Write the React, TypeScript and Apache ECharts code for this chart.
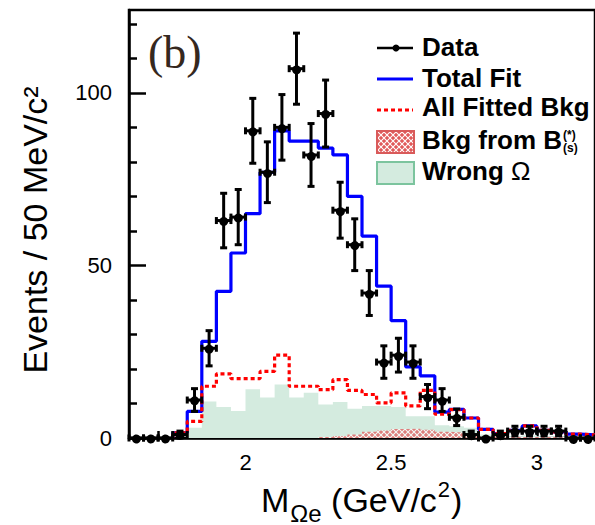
import { useEffect, useRef } from 'react';
import * as echarts from 'echarts';

// ---- data ----
const binCenters = [
  1.625, 1.675, 1.725, 1.775, 1.825, 1.875, 1.925, 1.975,
  2.025, 2.075, 2.125, 2.175, 2.225, 2.275, 2.325, 2.375,
  2.425, 2.475, 2.525, 2.575, 2.625, 2.675, 2.725, 2.775,
  2.825, 2.875, 2.925, 2.975, 3.025, 3.075, 3.125, 3.175,
];
const BIN_HALF = 0.025;
const dataCounts = [
  0, 0, 0, 1, 11, 26, 63, 64,
  89, 77, 90, 107, 82, 94, 66, 56,
  42, 22, 24, 22, 12, 11, 6, 1,
  0, 1, 2, 2, 2, 2, 0, 0,
];
const dataErrors = [
  0, 0, 0, 1, 3.3, 5.1, 7.9, 8,
  9.4, 8.8, 9.5, 10.3, 9.1, 9.7, 8.1, 7.5,
  6.5, 4.7, 4.9, 4.7, 3.5, 3.3, 2.4, 1,
  0, 1, 1.4, 1.4, 1.4, 1.4, 0, 0,
];
const totalFit = [
  0, 0, 0, 1.5, 7.7, 28, 42.5, 53.6,
  65, 77, 89, 86, 86, 84, 82, 70,
  58.5, 44, 34, 20.6, 18, 7.5, 8.3, 5.8,
  2.5, 1.3, 2.2, 3.5, 2.2, 1.8, 1.1, 0.9,
];
const allFittedBkg = [
  0, 0, 0, 1.5, 4.8, 15, 18.6, 17.2,
  17.2, 19.3, 24, 15, 15, 14, 16.9, 13.8,
  12.6, 10.2, 13.1, 9.3, 13.8, 6.9, 8.2, 5.8,
  2.5, 1.3, 2.2, 3.5, 2.2, 1.8, 1.1, 0.9,
];
const bkgFromB = [
  0, 0, 0, 0, 0, 0, 0, 0,
  0, 0, 0, 0, 0, 0.3, 0.6, 1.0,
  1.8, 2.2, 2.6, 2.7, 2.4, 1.8, 1.6, 1.0,
  0.5, 0.3, 0.3, 0.3, 0.3, 0.3, 0.3, 0.3,
];
const wrongOmega = [
  0, 0, 0, 0, 3, 10.6, 9, 7.8,
  14.1, 11.7, 15.5, 11.7, 13.1, 9.7, 10.4, 8.5,
  9.3, 9.3, 9, 6.3, 6.3, 3.7, 3.4, 3,
  1, 0.5, 0.5, 0.8, 0.5, 0.3, 0.2, 0,
];
const xMajorTicks = [2, 2.5, 3];
const xMinorTicks = [1.7, 1.8, 1.9, 2.1, 2.2, 2.3, 2.4, 2.6, 2.7, 2.8, 2.9, 3.1];
const yMajorTicks = [0, 50, 100];
const yMinorTicks = [10, 20, 30, 40, 60, 70, 80, 90, 110, 120];

const SANS = 'Liberation Sans';

function stepPoints(values: number[], closeEnd: boolean) {
  const first = values.findIndex((v) => v > 0);
  const pts: number[][] = [[binCenters[first] - BIN_HALF, 0]];
  for (let i = first; i < values.length; i++) {
    pts.push([binCenters[i] - BIN_HALF, values[i]]);
    pts.push([binCenters[i] + BIN_HALF, values[i]]);
  }
  if (closeEnd) pts.push([binCenters[values.length - 1] + BIN_HALF, 0]);
  return pts;
}

function measure(text: string, font: string) {
  const c = document.createElement('canvas');
  const ctx = c.getContext('2d')!;
  ctx.font = font;
  return ctx.measureText(text).width;
}

function makeHatch() {
  const c = document.createElement('canvas');
  c.width = 6;
  c.height = 6;
  const ctx = c.getContext('2d')!;
  ctx.fillStyle = '#e05a5a';
  ctx.fillRect(0, 0, 6, 6);
  ctx.strokeStyle = '#ffffff';
  ctx.lineWidth = 1.1;
  ctx.beginPath();
  ctx.moveTo(0, 0);
  ctx.lineTo(6, 6);
  ctx.moveTo(6, 0);
  ctx.lineTo(0, 6);
  ctx.stroke();
  return c;
}

export default function App() {
  const ref = useRef<HTMLDivElement>(null);
  useEffect(() => {
    if (!ref.current) return;
    const chart = echarts.init(ref.current, null, { renderer: 'svg' });
    const hatch = makeHatch();
    const hatchColor: any = { image: hatch, repeat: 'repeat' };

    const legFont = `bold 26px "${SANS}"`;
    const bkgW = measure('Bkg from B', legFont);
    const mW = measure('M', `34px "${SANS}"`);
    const subW = measure('Ωe', `24px "${SANS}"`);
    const spW = measure(' ', `34px "${SANS}"`);
    const unitW = measure('(GeV/c', `34px "${SANS}"`);
    const supW = measure('2', `22px "${SANS}"`);

    const lineBlack = { stroke: '#000', lineWidth: 3 };
    const legX1 = 377;
    const legX2 = 413;
    const legTextX = 422;
    const unitX = 261 + mW + 1 + subW + spW;

    const option: any = {
      animation: false,
      grid: {
        left: 129, top: 10, width: 470, height: 428,
        show: true, borderColor: '#000', borderWidth: 2.5, backgroundColor: 'transparent',
      },
      xAxis: [
        {
          type: 'value', min: 1.6, max: 3.2,
          axisLine: { show: true, onZero: false, lineStyle: { color: '#000', width: 2.5 } },
          axisTick: { show: true, inside: true, length: 11, customValues: xMajorTicks, lineStyle: { color: '#000', width: 2.5 } },
          axisLabel: { customValues: xMajorTicks, fontSize: 22, color: '#000', margin: 13, fontFamily: SANS },
          splitLine: { show: false },
        },
        {
          type: 'value', min: 1.6, max: 3.2, position: 'bottom',
          axisLine: { show: false },
          axisTick: { show: true, inside: true, length: 7, customValues: xMinorTicks, lineStyle: { color: '#000', width: 2.5 } },
          axisLabel: { show: false },
          splitLine: { show: false },
        },
      ],
      yAxis: [
        {
          type: 'value', min: 0, max: 124,
          axisLine: { show: true, onZero: false, lineStyle: { color: '#000', width: 2.5 } },
          axisTick: { show: true, inside: true, length: 17, customValues: yMajorTicks, lineStyle: { color: '#000', width: 2.5 } },
          axisLabel: { customValues: yMajorTicks, fontSize: 22, color: '#000', margin: 17, fontFamily: SANS },
          splitLine: { show: false },
        },
        {
          type: 'value', min: 0, max: 124, position: 'left',
          axisLine: { show: false },
          axisTick: { show: true, inside: true, length: 8, customValues: yMinorTicks, lineStyle: { color: '#000', width: 2.5 } },
          axisLabel: { show: false },
          splitLine: { show: false },
        },
      ],
      series: [
        {
          name: 'Wrong Ω', type: 'line', data: stepPoints(wrongOmega, true),
          symbol: 'none', lineStyle: { width: 0, opacity: 0 },
          areaStyle: { color: '#d4ebdf', opacity: 1 },
        },
        {
          name: 'Bkg from B', type: 'line', data: stepPoints(bkgFromB, true),
          symbol: 'none', lineStyle: { width: 0, opacity: 0 },
          areaStyle: { color: hatchColor, opacity: 0.75 },
        },
        {
          name: 'Total Fit', type: 'line', data: stepPoints(totalFit, false),
          symbol: 'none', lineStyle: { color: '#0000ff', width: 3.2 },
        },
        {
          name: 'All Fitted Bkg', type: 'line', data: stepPoints(allFittedBkg, false),
          symbol: 'none', lineStyle: { color: '#ff0000', width: 3.2, type: [4, 3] },
        },
        {
          name: 'Data', type: 'custom',
          data: binCenters.map((x, i) => [x, dataCounts[i], dataErrors[i]]),
          encode: { x: 0, y: 1 },
          renderItem: (_p: any, api: any) => {
            const x = api.value(0);
            const y = api.value(1);
            const e = api.value(2);
            const c = api.coord([x, y]);
            const lo = api.coord([x - BIN_HALF, y]);
            const hi = api.coord([x + BIN_HALF, y]);
            const children: any[] = [
              { type: 'line', shape: { x1: lo[0], y1: c[1], x2: hi[0], y2: c[1] }, style: lineBlack },
              { type: 'line', shape: { x1: lo[0], y1: c[1] - 3.5, x2: lo[0], y2: c[1] + 3.5 }, style: lineBlack },
              { type: 'line', shape: { x1: hi[0], y1: c[1] - 3.5, x2: hi[0], y2: c[1] + 3.5 }, style: lineBlack },
            ];
            if (e > 0) {
              const t = api.coord([x, y + e]);
              const b = api.coord([x, Math.max(0, y - e)]);
              children.push(
                { type: 'line', shape: { x1: c[0], y1: t[1], x2: c[0], y2: b[1] }, style: lineBlack },
                { type: 'line', shape: { x1: c[0] - 3.5, y1: t[1], x2: c[0] + 3.5, y2: t[1] }, style: lineBlack },
                { type: 'line', shape: { x1: c[0] - 3.5, y1: b[1], x2: c[0] + 3.5, y2: b[1] }, style: lineBlack },
              );
            }
            children.push({ type: 'circle', shape: { cx: c[0], cy: c[1], r: 4.5 }, style: { fill: '#000' } });
            return { type: 'group', children };
          },
          z: 5,
        },
      ],
      graphic: [
        // panel label
        { type: 'text', x: 148, y: 52, style: { text: '(b)', font: `46px "Liberation Serif"`, fill: '#35281e', verticalAlign: 'middle', align: 'left' } },
        // legend: Data
        { type: 'line', shape: { x1: legX1, y1: 48, x2: legX2, y2: 48 }, style: { stroke: '#000', lineWidth: 2.5 } },
        { type: 'circle', shape: { cx: 396, cy: 48, r: 3.5 }, style: { fill: '#000' } },
        { type: 'text', x: legTextX, y: 47, style: { text: 'Data', font: legFont, fill: '#000', verticalAlign: 'middle' } },
        // Total Fit
        { type: 'line', shape: { x1: legX1, y1: 79, x2: legX2, y2: 79 }, style: { stroke: '#0000ff', lineWidth: 3 } },
        { type: 'text', x: legTextX, y: 78, style: { text: 'Total Fit', font: legFont, fill: '#000', verticalAlign: 'middle' } },
        // All Fitted Bkg
        { type: 'line', shape: { x1: legX1, y1: 110, x2: legX2, y2: 110 }, style: { stroke: '#ff0000', lineWidth: 3, lineDash: [4, 3] } },
        { type: 'text', x: legTextX, y: 107, style: { text: 'All Fitted Bkg', font: legFont, fill: '#000', verticalAlign: 'middle' } },
        // Bkg from B
        { type: 'rect', shape: { x: 377, y: 131, width: 37, height: 22 }, style: { fill: hatchColor, stroke: '#d95a5a', lineWidth: 2 } },
        { type: 'text', x: legTextX, y: 140, style: { text: 'Bkg from B', font: legFont, fill: '#000', verticalAlign: 'middle' } },
        { type: 'text', x: legTextX + bkgW + 1, y: 135, style: { text: '(*)', font: `bold 12px "${SANS}"`, fill: '#000', verticalAlign: 'middle' } },
        { type: 'text', x: legTextX + bkgW + 1, y: 148, style: { text: '(s)', font: `bold 12px "${SANS}"`, fill: '#000', verticalAlign: 'middle' } },
        // Wrong Omega
        { type: 'rect', shape: { x: 377, y: 162, width: 37, height: 22 }, style: { fill: '#d4ebdf', stroke: '#7cc49e', lineWidth: 2 } },
        {
          type: 'text', x: legTextX, y: 171,
          style: {
            text: '{b|Wrong }{o|Ω}', fill: '#000', verticalAlign: 'middle',
            rich: {
              b: { fontFamily: SANS, fontWeight: 'bold', fontSize: 26 },
              o: { fontFamily: SANS, fontWeight: 'normal', fontSize: 26 },
            },
          },
        },
        // y axis title
        {
          type: 'text', x: 35, y: 230, rotation: Math.PI / 2,
          style: { text: 'Events / 50 MeV/c²', font: `34px "${SANS}"`, fill: '#000', align: 'center', verticalAlign: 'middle' },
        },
        // x axis title
        { type: 'text', x: 261, y: 500, style: { text: 'M', font: `34px "${SANS}"`, fill: '#000', verticalAlign: 'middle' } },
        { type: 'text', x: 261 + mW + 1, y: 513, style: { text: 'Ωe', font: `24px "${SANS}"`, fill: '#000', verticalAlign: 'middle' } },
        { type: 'text', x: unitX, y: 500, style: { text: '(GeV/c', font: `34px "${SANS}"`, fill: '#000', verticalAlign: 'middle' } },
        { type: 'text', x: unitX + unitW + 1, y: 489, style: { text: '2', font: `22px "${SANS}"`, fill: '#000', verticalAlign: 'middle' } },
        { type: 'text', x: unitX + unitW + supW + 2, y: 500, style: { text: ')', font: `34px "${SANS}"`, fill: '#000', verticalAlign: 'middle' } },
      ],
    };
    chart.setOption(option);
    return () => chart.dispose();
  }, []);
  return <div ref={ref} style={{ position: 'absolute', left: 0, top: 0, width: 595, height: 525 }} />;
}
